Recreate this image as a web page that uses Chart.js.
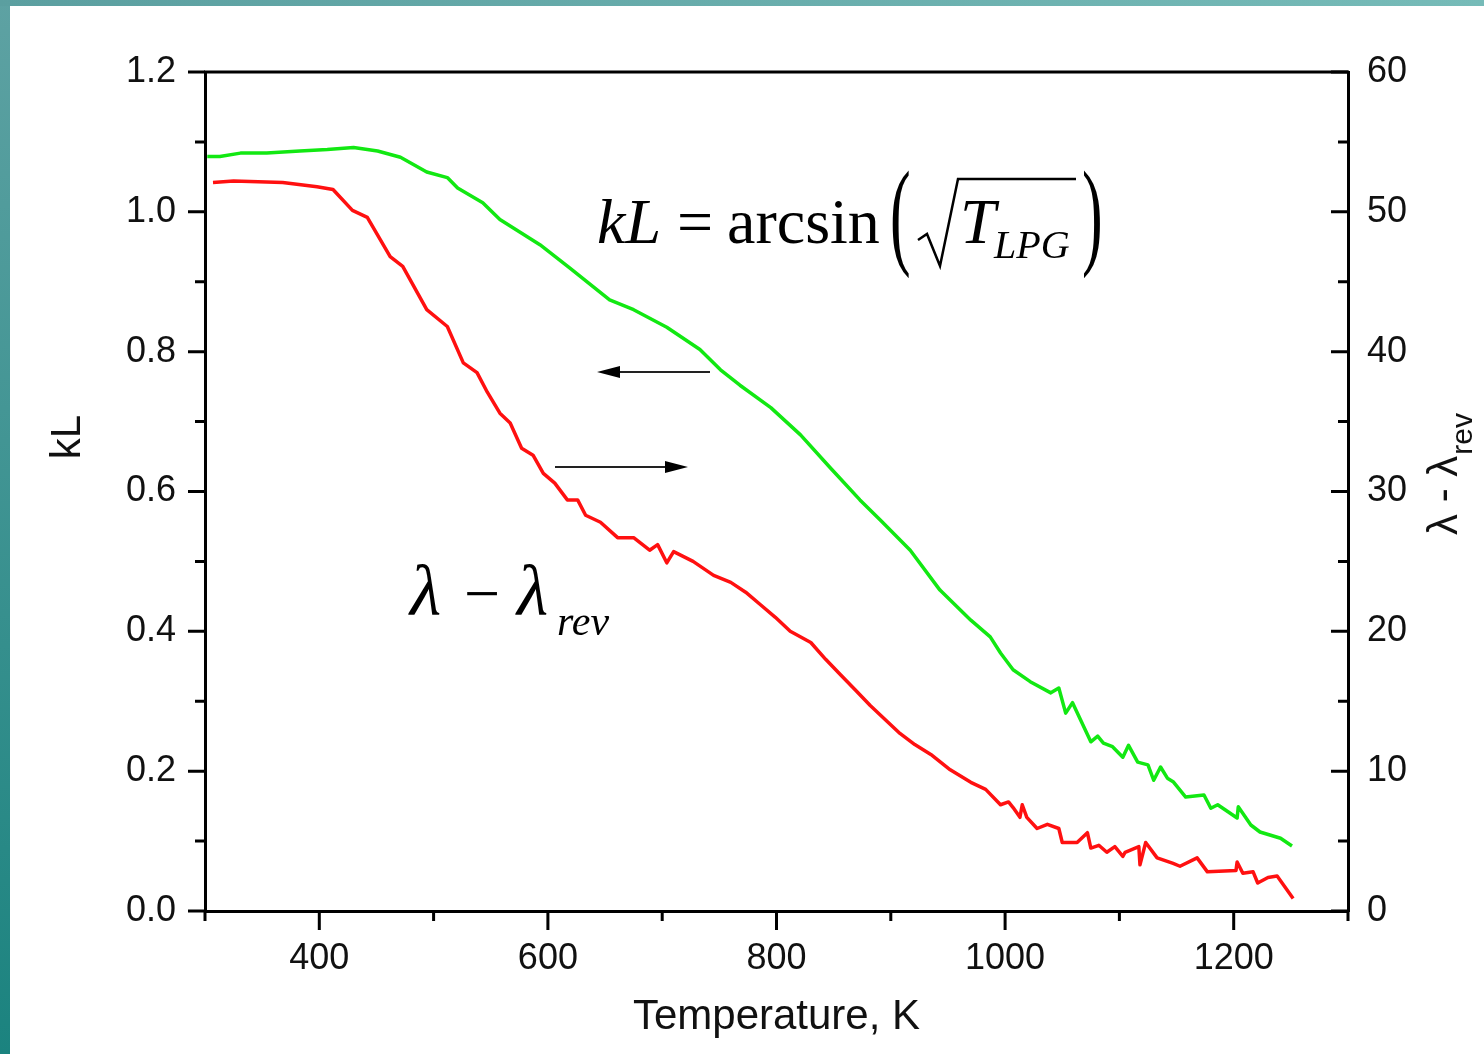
<!DOCTYPE html>
<html>
<head>
<meta charset="utf-8">
<script src="https://cdn.jsdelivr.net/npm/chart.js@4.4.1/dist/chart.umd.min.js"></script>
<style>
    body { margin: 0; width: 1484px; height: 1054px; overflow: hidden; background: #fff; position: relative; }
    #bordeIzq { position: absolute; left: 0; top: 0; width: 10px; height: 1054px; background: linear-gradient(to bottom, #5ea2a3, #1b837f); }
    #bordeSup { position: absolute; left: 0; top: 0; width: 1484px; height: 6px; background: linear-gradient(to right, #5b9fa0, #76bbb8); }
    #grafica { position: absolute; left: 0; top: 0; }
</style>
</head>
<body>
<div id="bordeIzq"></div>
<div id="bordeSup"></div>
<canvas id="grafica" width="1484" height="1054"></canvas>
<script>
// curva verde: kL (eje izquierdo)
const tempVerde = [302, 313, 331, 354, 383, 407, 430, 451, 471, 494, 512, 521, 543, 558, 593, 619, 654, 675, 704, 733, 751, 768, 795, 821, 847, 873, 891, 917, 943, 970, 987, 996, 1007, 1022, 1040, 1047, 1053, 1059, 1075, 1081, 1086, 1094, 1103, 1108, 1116, 1125, 1130, 1136, 1142, 1147, 1158, 1174, 1180, 1186, 1195, 1203, 1204, 1215, 1223, 1241, 1251];
const kL = [1.079, 1.079, 1.084, 1.084, 1.087, 1.089, 1.092, 1.087, 1.078, 1.057, 1.049, 1.034, 1.013, 0.989, 0.953, 0.920, 0.874, 0.860, 0.835, 0.803, 0.774, 0.752, 0.720, 0.681, 0.634, 0.588, 0.559, 0.516, 0.459, 0.416, 0.392, 0.369, 0.345, 0.328, 0.312, 0.319, 0.283, 0.298, 0.242, 0.250, 0.240, 0.235, 0.220, 0.237, 0.213, 0.209, 0.187, 0.206, 0.190, 0.185, 0.163, 0.166, 0.147, 0.152, 0.142, 0.133, 0.149, 0.123, 0.113, 0.104, 0.093];

// curva roja: lambda - lambda_rev (eje derecho)
const tempRojo = [307, 325, 368, 398, 412, 429, 442, 462, 473, 494, 512, 526, 538, 547, 558, 567, 577, 587, 596, 606, 617, 626, 633, 646, 661, 675, 689, 696, 704, 710, 727, 745, 760, 773, 786, 799, 812, 830, 843, 856, 869, 882, 895, 908, 921, 935, 952, 970, 983, 996, 1003, 1007, 1013, 1015, 1019, 1028, 1037, 1047, 1050, 1063, 1072, 1075, 1082, 1089, 1096, 1103, 1105, 1117, 1118, 1123, 1133, 1147, 1153, 1168, 1177, 1202, 1203, 1208, 1217, 1221, 1230, 1238, 1252];
const lambdaRev = [52.1, 52.2, 52.1, 51.8, 51.6, 50.1, 49.6, 46.8, 46.1, 43.0, 41.8, 39.2, 38.5, 37.1, 35.6, 34.9, 33.1, 32.6, 31.3, 30.6, 29.4, 29.4, 28.3, 27.8, 26.7, 26.7, 25.8, 26.2, 24.9, 25.7, 25.0, 24.0, 23.5, 22.8, 21.9, 21.0, 20.0, 19.2, 18.0, 16.9, 15.8, 14.7, 13.7, 12.7, 11.9, 11.2, 10.1, 9.2, 8.7, 7.6, 7.8, 7.4, 6.7, 7.6, 6.7, 5.9, 6.2, 5.9, 4.9, 4.9, 5.6, 4.5, 4.7, 4.2, 4.6, 3.9, 4.2, 4.6, 3.3, 4.9, 3.8, 3.4, 3.2, 3.8, 2.8, 2.9, 3.5, 2.7, 2.8, 2.0, 2.4, 2.5, 0.9];

// marcas de los ejes
const ticksX = [400, 600, 800, 1000, 1200];
const ticksXMenores = [300, 500, 700, 900, 1100, 1300];
const ticksIzq = [0, 0.2, 0.4, 0.6, 0.8, 1.0, 1.2];
const ticksIzqMenores = [0.1, 0.3, 0.5, 0.7, 0.9, 1.1];
const ticksDer = [0, 10, 20, 30, 40, 50, 60];
const ticksDerMenores = [5, 15, 25, 35, 45, 55];

const fuenteEjes = "'Liberation Sans', Arial, sans-serif";
const fuenteMate = "'Liberation Serif', 'Times New Roman', serif";
const colorTexto = '#111';

function texto(ctx, t, x, y, fuente) {
    ctx.font = fuente;
    ctx.fillText(t, x, y);
    return ctx.measureText(t).width;
}

// parentesis alto y delgado (escalado en vertical)
function parentesis(ctx, t, x, y) {
    ctx.save();
    ctx.translate(x, y);
    ctx.scale(1, 1.9);
    texto(ctx, t, 0, 0, '62px ' + fuenteMate);
    ctx.restore();
}

// marcas, linea superior, titulos y anotaciones
const extras = {
    id: 'extras',
    afterDraw(chart) {
        const ctx = chart.ctx;
        const a = chart.chartArea;
        const sx = chart.scales.x, sy = chart.scales.y, sd = chart.scales.y1;

        ctx.save();
        ctx.strokeStyle = '#000';
        ctx.lineWidth = 3;
        ctx.beginPath();
        ctx.moveTo(a.left - 1, a.top);
        ctx.lineTo(a.right + 1, a.top);
        ctx.stroke();

        ctx.beginPath();
        ticksX.forEach(v => { const p = sx.getPixelForValue(v); ctx.moveTo(p, a.bottom); ctx.lineTo(p, a.bottom + 19); });
        ticksXMenores.forEach(v => { const p = sx.getPixelForValue(v); ctx.moveTo(p, a.bottom); ctx.lineTo(p, a.bottom + 10); });
        ticksIzq.forEach(v => { const p = sy.getPixelForValue(v); ctx.moveTo(a.left, p); ctx.lineTo(a.left - 17, p); });
        ticksIzqMenores.forEach(v => { const p = sy.getPixelForValue(v); ctx.moveTo(a.left, p); ctx.lineTo(a.left - 10, p); });
        ticksDer.forEach(v => { const p = sd.getPixelForValue(v); ctx.moveTo(a.right, p); ctx.lineTo(a.right - 17, p); });
        ticksDerMenores.forEach(v => { const p = sd.getPixelForValue(v); ctx.moveTo(a.right, p); ctx.lineTo(a.right - 10, p); });
        ctx.stroke();

        ctx.fillStyle = colorTexto;
        ctx.textBaseline = 'alphabetic';

        // titulo del eje izquierdo
        ctx.save();
        ctx.translate(80, 437);
        ctx.rotate(-Math.PI / 2);
        ctx.textAlign = 'center';
        texto(ctx, 'kL', 0, 0, '42px ' + fuenteEjes);
        ctx.restore();

        // titulo del eje derecho
        ctx.save();
        ctx.translate(1457, 535);
        ctx.rotate(-Math.PI / 2);
        let w = texto(ctx, 'λ - λ', 0, 0, '42px ' + fuenteEjes);
        texto(ctx, 'rev', w + 1, 15, '30px ' + fuenteEjes);
        ctx.restore();

        // formula kL
        ctx.fillStyle = '#000';
        texto(ctx, 'kL', 597, 243, 'italic 64px ' + fuenteMate);
        texto(ctx, '=', 677, 243, '64px ' + fuenteMate);
        texto(ctx, 'arcsin', 727, 243, '64px ' + fuenteMate);
        parentesis(ctx, '(', 890, 253);
        parentesis(ctx, ')', 1082, 253);
        ctx.lineWidth = 2.5;
        ctx.lineJoin = 'miter';
        ctx.beginPath();
        ctx.moveTo(918, 240);
        ctx.lineTo(927, 234);
        ctx.lineTo(940, 266);
        ctx.lineTo(958, 179);
        ctx.lineTo(1076, 179);
        ctx.stroke();
        texto(ctx, 'T', 960, 243, 'italic 64px ' + fuenteMate);
        texto(ctx, 'LPG', 994, 258, 'italic 40px ' + fuenteMate);

        // lambda - lambda_rev
        texto(ctx, 'λ', 410, 615, 'italic 72px ' + fuenteMate);
        texto(ctx, '−', 464, 615, '64px ' + fuenteMate);
        texto(ctx, 'λ', 517, 615, 'italic 72px ' + fuenteMate);
        texto(ctx, 'rev', 557, 635, 'italic 42px ' + fuenteMate);

        // flechas
        ctx.strokeStyle = '#222';
        ctx.lineWidth = 2;
        ctx.beginPath();
        ctx.moveTo(710, 372); ctx.lineTo(610, 372);
        ctx.moveTo(555, 467); ctx.lineTo(674, 467);
        ctx.stroke();
        ctx.fillStyle = '#000';
        ctx.beginPath();
        ctx.moveTo(597, 372); ctx.lineTo(620, 366); ctx.lineTo(620, 378); ctx.closePath();
        ctx.moveTo(688, 467); ctx.lineTo(665, 461); ctx.lineTo(665, 473); ctx.closePath();
        ctx.fill();
        ctx.restore();
    }
};

const canvas = document.getElementById('grafica');

new Chart(canvas.getContext('2d'), {
    type: 'line',
    data: {
        datasets: [
            {
                label: 'kL',
                data: tempVerde.map((t, i) => ({ x: t, y: kL[i] })),
                borderColor: '#12e812',
                borderWidth: 3.5,
                borderJoinStyle: 'round',
                pointRadius: 0,
                tension: 0,
                yAxisID: 'y'
            },
            {
                label: 'λ - λrev',
                data: tempRojo.map((t, i) => ({ x: t, y: lambdaRev[i] })),
                borderColor: '#ff1010',
                borderWidth: 3.5,
                borderJoinStyle: 'round',
                pointRadius: 0,
                tension: 0,
                yAxisID: 'y1'
            }
        ]
    },
    options: {
        responsive: false,
        animation: false,
        layout: { padding: { top: 72, left: 0, right: 0, bottom: 0 } },
        plugins: { legend: { display: false }, tooltip: { enabled: false } },
        scales: {
            x: {
                type: 'linear',
                min: 300,
                max: 1300,
                afterBuildTicks: s => { s.ticks = ticksX.map(v => ({ value: v })); },
                afterFit: s => { s.height = 143; },
                grid: { display: false, drawTicks: false },
                border: { display: true, color: '#000', width: 3 },
                ticks: { padding: 26, color: colorTexto, font: { family: fuenteEjes, size: 36 }, maxRotation: 0, callback: v => String(v) },
                title: { display: true, text: 'Temperature, K', color: colorTexto, font: { family: fuenteEjes, size: 42 }, padding: { top: 0, bottom: 11 } }
            },
            y: {
                position: 'left',
                min: 0,
                max: 1.2,
                afterBuildTicks: s => { s.ticks = ticksIzq.map(v => ({ value: v })); },
                afterFit: s => { s.width = 205; },
                grid: { display: false, drawTicks: false },
                border: { display: true, color: '#000', width: 3 },
                ticks: { padding: 29, color: colorTexto, font: { family: fuenteEjes, size: 36 }, callback: v => v.toFixed(1) }
            },
            y1: {
                position: 'right',
                min: 0,
                max: 60,
                afterBuildTicks: s => { s.ticks = ticksDer.map(v => ({ value: v })); },
                afterFit: s => { s.width = 136; },
                grid: { display: false, drawTicks: false },
                border: { display: true, color: '#000', width: 3 },
                ticks: { padding: 19, color: colorTexto, font: { family: fuenteEjes, size: 36 } }
            }
        }
    },
    plugins: [extras]
});
</script>
</body>
</html>
